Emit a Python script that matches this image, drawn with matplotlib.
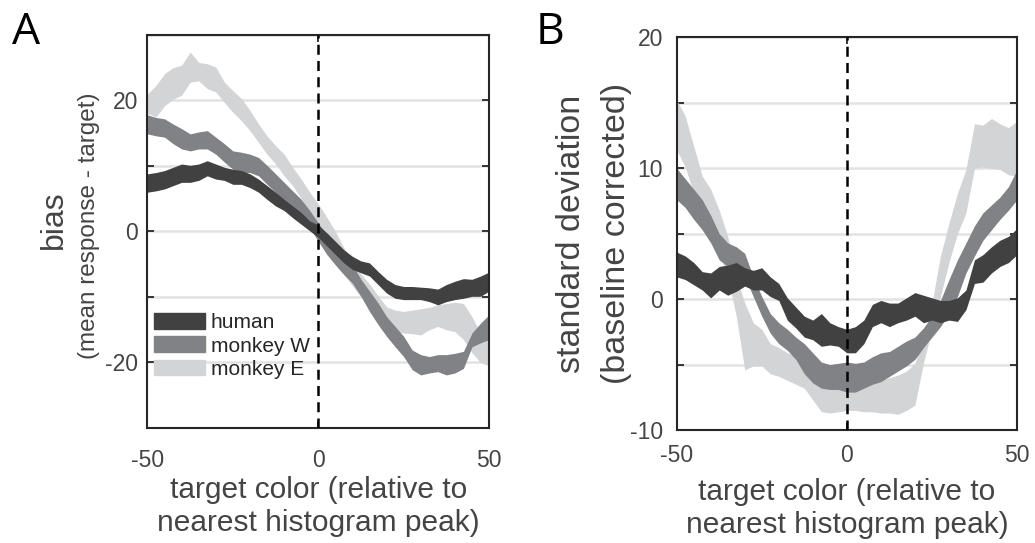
import numpy as np
import matplotlib
matplotlib.use('Agg')
import matplotlib.pyplot as plt
from matplotlib.patches import Patch

plt.rcParams['font.family'] = ['Liberation Sans', 'DejaVu Sans']
plt.rcParams['axes.unicode_minus'] = False

x = np.arange(-50, 50.1, 2.5)

# panel A: bias (upper / lower edge of each band)
bias_human_hi = [8.8, 9.0, 9.3, 9.8, 10.3, 10.1, 10.3, 10.8, 10.3, 9.8, 9.5, 9.3, 8.8, 8.0, 7.0, 6.0, 4.9, 3.9, 2.9, 1.6,
                 1.0, -0.2, -1.5, -2.8, -3.8, -4.5, -4.8, -6.1, -7.3, -8.1, -8.4, -8.4, -8.5, -8.6, -8.8, -8.1, -7.6, -7.2, -7.3, -6.8, -6.2]
bias_human_lo = [6.0, 6.2, 6.5, 7.0, 7.5, 7.5, 7.8, 8.5, 8.0, 7.8, 7.2, 7.2, 6.7, 6.0, 4.9, 3.9, 3.2, 2.1, 1.1, 0.1,
                 -0.9, -2.2, -3.5, -4.8, -5.8, -6.3, -6.8, -8.1, -9.4, -10.2, -10.4, -10.4, -10.4, -10.7, -11.2, -10.7, -10.4, -10.2, -9.9, -9.9, -9.1]
bias_w_hi = [17.8, 17.4, 17.2, 16.4, 15.7, 14.9, 15.2, 15.4, 14.4, 13.4, 12.3, 12.1, 11.8, 11.3, 10.1, 8.8, 7.5, 6.2, 4.9, 3.2,
             1.3, -0.7, -2.2, -3.5, -5.1, -7.3, -9.1, -10.9, -13.0, -14.5, -16.0, -18.1, -18.8, -19.1, -18.8, -18.8, -18.6, -18.3, -15.5, -14.0, -12.7]
bias_w_lo = [14.9, 14.6, 14.4, 13.4, 12.6, 12.3, 12.6, 12.6, 11.8, 10.6, 9.5, 9.0, 9.0, 8.5, 7.2, 6.0, 4.7, 3.7, 2.4, 0.6,
             -1.5, -3.5, -5.1, -6.6, -7.9, -9.9, -12.2, -14.2, -16.0, -17.6, -19.1, -21.1, -21.9, -21.6, -21.4, -21.9, -21.6, -20.9, -17.6, -17.0, -16.5]
bias_e_hi = [21.0, 22.3, 24.1, 25.0, 25.4, 27.4, 25.8, 25.6, 25.1, 22.8, 21.5, 20.3, 18.5, 16.4, 14.6, 13.1, 11.8, 9.8, 8.0, 6.0,
             4.2, 2.2, 0.0, -2.5, -4.5, -6.5, -8.0, -9.8, -11.5, -12.0, -12.2, -12.0, -11.8, -11.6, -11.2, -11.0, -10.8, -11.0, -13.0, -15.5, -16.5]
bias_e_lo = [18.0, 17.5, 19.2, 20.2, 20.8, 22.8, 23.0, 21.8, 21.3, 19.7, 18.2, 16.9, 15.4, 13.6, 11.8, 10.3, 8.5, 7.0, 5.0, 2.9,
             0.5, -1.8, -4.2, -6.5, -8.3, -10.0, -11.8, -13.2, -14.7, -15.3, -15.5, -15.6, -15.8, -15.0, -14.5, -15.0, -15.3, -16.5, -18.5, -20.0, -20.5]

# panel B: standard deviation (baseline corrected)
sd_human_hi = [3.6, 3.3, 2.8, 2.1, 2.0, 2.5, 2.6, 2.8, 2.4, 2.2, 2.4, 1.7, 1.2, 0.1, -0.6, -1.3, -1.6, -1.1, -1.8, -2.1,
               -2.3, -2.1, -1.6, -0.4, -0.1, -0.3, -0.3, 0.1, 0.5, 0.3, 0.1, -0.1, -0.1, 0.1, 0.7, 3.0, 3.4, 4.0, 4.5, 4.8, 5.4]
sd_human_lo = [1.7, 1.5, 1.1, 0.7, 0.1, 0.7, 0.3, 0.6, 1.0, 0.7, 0.7, 0.2, -0.1, -1.6, -2.2, -2.9, -3.1, -3.6, -3.5, -3.6,
               -4.1, -4.1, -3.4, -2.1, -1.8, -2.1, -1.8, -1.6, -1.3, -1.8, -1.6, -1.8, -1.6, -1.7, -0.8, 1.2, 1.3, 2.0, 2.5, 2.8, 3.4]
sd_w_hi = [10.0, 9.2, 8.4, 7.6, 6.4, 5.0, 4.3, 4.0, 3.5, 1.7, 0.2, -1.1, -1.8, -2.3, -2.9, -3.4, -4.1, -4.8, -5.0, -4.9,
           -4.8, -4.9, -4.8, -4.4, -4.1, -4.0, -3.6, -3.2, -2.9, -2.2, -1.3, -0.1, 1.5, 3.0, 4.3, 5.6, 6.6, 7.2, 7.8, 8.6, 9.9]
sd_w_lo = [7.6, 7.0, 6.1, 5.3, 4.3, 3.0, 2.5, 2.2, 1.7, 0.2, -1.3, -2.6, -3.4, -3.9, -4.6, -5.7, -6.4, -6.8, -6.9, -6.9,
           -7.1, -7.1, -6.8, -6.5, -6.3, -5.9, -5.5, -5.1, -4.6, -3.7, -2.9, -2.1, -1.1, 0.2, 2.0, 3.3, 4.5, 5.3, 6.1, 6.8, 7.6]
sd_e_hi = [15.2, 14.0, 11.7, 9.4, 8.4, 6.8, 4.8, 1.7, -0.3, -1.8, -2.3, -3.4, -3.7, -4.1, -4.3, -4.4, -4.6, -4.9, -5.1, -5.4,
           -5.5, -5.9, -6.2, -6.2, -6.2, -6.0, -5.8, -5.5, -4.9, -2.9, -0.3, 3.3, 5.8, 8.1, 9.9, 13.4, 13.3, 13.8, 13.4, 13.1, 13.6]
sd_e_lo = [11.4, 10.1, 8.1, 6.1, 5.0, 3.5, 1.7, -1.3, -5.4, -5.1, -5.1, -5.7, -5.9, -6.2, -6.5, -6.8, -7.7, -8.6, -8.7, -8.6,
           -8.5, -8.5, -8.6, -8.6, -8.7, -8.7, -8.8, -8.5, -8.1, -4.9, -2.3, 0.2, 2.8, 5.0, 6.6, 10.0, 10.1, 10.0, 9.9, 9.5, 9.4]

labels = ['human', 'monkey W', 'monkey E']
colors = ['#414141', '#818285', '#d3d4d6']
text_col = '#444444'

fig = plt.figure(figsize=(10.35, 5.43), dpi=100)
axA = fig.add_axes([0.1425, 0.2118, 0.33, 0.7238])
axB = fig.add_axes([0.6538, 0.208, 0.3288, 0.7232])


def style(ax, yticks, ylabels, ypad, xpad):
    ax.set_xlim(-50, 50)
    ax.set_ylim(yticks[0], yticks[-1])
    ax.set_xticks([-50, 0, 50])
    ax.set_xticklabels(['-50', '0', '50'])
    ax.set_yticks(yticks)
    ax.set_yticklabels(ylabels)
    ax.set_axisbelow(True)
    ax.yaxis.grid(True, color='#e2e2e2', lw=1.8)
    ax.tick_params(direction='in', length=5, width=1.3, color='#262626',
                   top=True, right=True, labelsize=16.5, labelcolor=text_col)
    ax.tick_params(axis='y', pad=ypad)
    ax.tick_params(axis='x', pad=xpad)
    for s in ax.spines.values():
        s.set_linewidth(1.5)
        s.set_color('#262626')
    ax.axvline(0, color='black', lw=1.8, ls=(0, (4, 2.5)), zorder=5)
    ax.text(0.5, -0.123, 'target color (relative to\nnearest histogram peak)', transform=ax.transAxes,
            ha='center', va='top', fontsize=21.5, color=text_col, linespacing=1.2)


# Panel A
axA.fill_between(x, bias_e_lo, bias_e_hi, color=colors[2], lw=0)
axA.fill_between(x, bias_w_lo, bias_w_hi, color=colors[1], lw=0)
axA.fill_between(x, bias_human_lo, bias_human_hi, color=colors[0], lw=0)
style(axA, [-30, -20, -10, 0, 10, 20, 30], ['', '-20', '', '0', '', '20', ''], 7, 15)
axA.text(-0.275, 0.53, 'bias', transform=axA.transAxes, rotation=90,
         ha='center', va='center', fontsize=23, color=text_col)
axA.text(-0.17, 0.515, '(mean response - target)', transform=axA.transAxes, rotation=90,
         ha='center', va='center', fontsize=17.5, color=text_col)
handles = [Patch(color=c) for c in colors]
axA.legend(handles, labels, loc='upper left', bbox_to_anchor=(0.018, 0.292), frameon=False,
           fontsize=15, handlelength=2.45, handleheight=0.78, handletextpad=0.3,
           labelspacing=0.2, borderaxespad=0, borderpad=0, labelcolor='#262626')

# Panel B
axB.fill_between(x, sd_e_lo, sd_e_hi, color=colors[2], lw=0)
axB.fill_between(x, sd_w_lo, sd_w_hi, color=colors[1], lw=0)
axB.fill_between(x, sd_human_lo, sd_human_hi, color=colors[0], lw=0)
style(axB, [-10, -5, 0, 5, 10, 15, 20], ['-10', '', '0', '', '10', '', '20'], 10, 10)
axB.text(-0.31, 0.5, 'standard deviation', transform=axB.transAxes, rotation=90,
         ha='center', va='center', fontsize=24.5, color=text_col)
axB.text(-0.178, 0.5, '(baseline corrected)', transform=axB.transAxes, rotation=90,
         ha='center', va='center', fontsize=24.5, color=text_col)

fig.text(12 / 1035, 1 - 10 / 543, 'A', fontsize=32, family='Open Sans', va='top', ha='left', color='black')
fig.text(536 / 1035, 1 - 10 / 543, 'B', fontsize=32, family='Open Sans', va='top', ha='left', color='black')

fig.savefig('out.png', dpi=100)
